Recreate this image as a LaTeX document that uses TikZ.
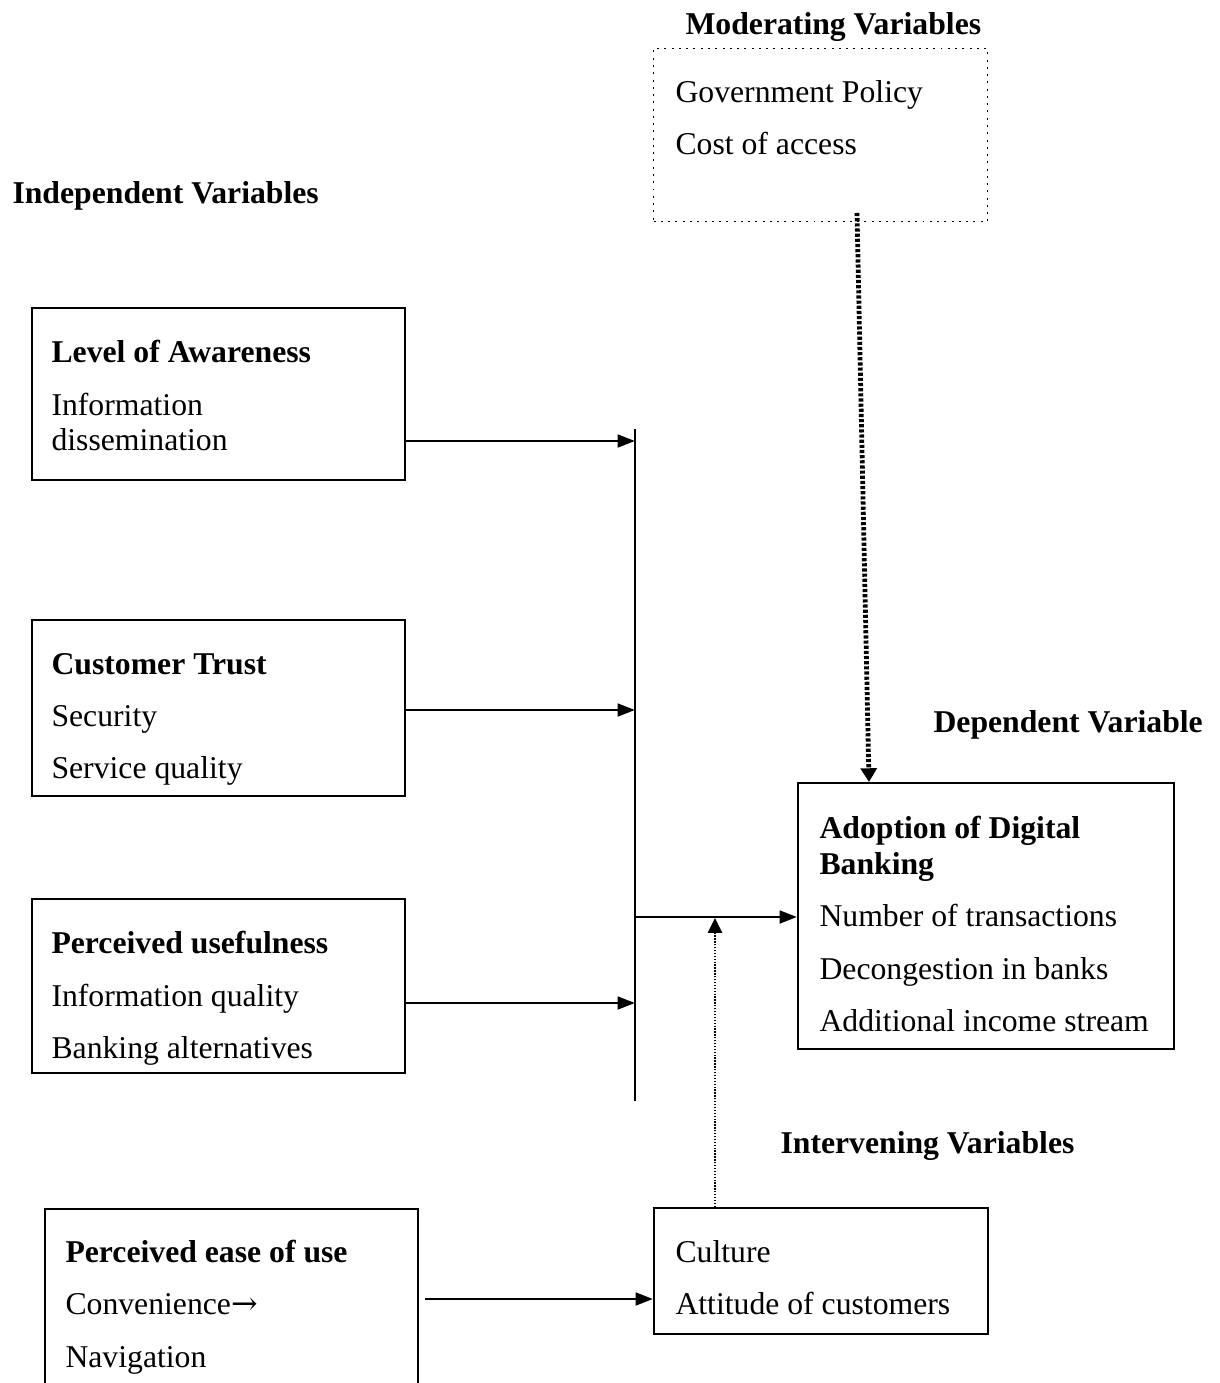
\documentclass[tikz,border=0pt]{standalone}
\usepackage{fontspec}
\setmainfont{Liberation Serif}
\newfontfamily\arrowfont{DejaVu Serif}
\usetikzlibrary{arrows.meta}
\newdimen\pxu
\pxu=0.3785pt

\begin{document}
\begin{tikzpicture}[x=0.3785pt,y=-0.3785pt,
  txt/.style={anchor=base west,inner sep=0pt,font=\fontsize{12pt}{14pt}\selectfont},
  head/.style={txt,font=\fontsize{12pt}{14pt}\selectfont\bfseries},
  box/.style={draw,line width=0.75pt,anchor=north west,inner sep=0pt},
  line/.style={line width=1.05pt},
  arr/.style={line,-{Triangle[length=6.6pt,width=4.8pt]}},
  bigdots/.style={line width=1.8pt,dash pattern=on 1.2pt off 0.75pt,-{Triangle[length=5.2pt,width=6pt]}},
  smalldots/.style={line width=0.5pt,dash pattern=on 0.5pt off 0.6pt,-{Triangle[length=5.6pt,width=5.4pt]}}]
\useasboundingbox (0,0) rectangle (1219,1383);
\node[box,dotted,line width=0.5pt,minimum width=334\pxu,minimum height=173\pxu] (modbox) at (653,48) {};
\node[box,minimum width=373\pxu,minimum height=172\pxu] (aware) at (31,307) {};
\node[box,minimum width=373\pxu,minimum height=176\pxu] (trust) at (31,619) {};
\node[box,minimum width=373\pxu,minimum height=174\pxu] (useful) at (31,898) {};
\node[box,minimum width=376\pxu,minimum height=266\pxu] (adopt) at (797,782) {};
\node[box,minimum width=334\pxu,minimum height=126\pxu] (culture) at (653,1207) {};
\node[box,minimum width=373\pxu,minimum height=180\pxu] (ease) at (44,1208) {};
% headings
\node[head] (hmod) at (685,35) {Moderating Variables};
\node[head] (hind) at (12,204) {Independent Variables};
\node[head] (hdep) at (933,732) {Dependent Variable};
\node[head] (hint) at (780,1153) {Intervening Variables};
% box texts
\node[txt] (gov) at (675,103) {Government Policy};
\node[txt] (cost) at (675,155) {Cost of access};
\node[head] (awaret) at (51,362) {Level of Awareness};
\node[txt] (info) at (51,415) {Information};
\node[txt] (diss) at (51,450) {dissemination};
\node[head] (trustt) at (51,674) {Customer Trust};
\node[txt] (sec) at (51,726) {Security};
\node[txt] (serv) at (51,778) {Service quality};
\node[head] (usefult) at (51,953) {Perceived usefulness};
\node[txt] (infoq) at (51,1006) {Information quality};
\node[txt] (balt) at (51,1058) {Banking alternatives};
\node[head] (adoptt) at (819,838) {Adoption of Digital};
\node[head] (adoptt2) at (819,874) {Banking};
\node[txt] (ntrans) at (819,926) {Number of transactions};
\node[txt] (decon) at (819,979) {Decongestion in banks};
\node[txt] (addinc) at (819,1031) {Additional income stream};
\node[head] (easet) at (65,1262) {Perceived ease of use};
\node[txt] (conv) at (65,1314) {Convenience{\arrowfont →}};
\node[txt] (nav) at (65,1367) {Navigation};
\node[txt] (cult) at (675,1262) {Culture};
\node[txt] (att) at (675,1314) {Attitude of customers};
% bus and connectors
\coordinate (bustop) at (635,429);
\coordinate (busbot) at (635,1101);
\coordinate (j1) at (635,441);
\coordinate (j2) at (635,710);
\coordinate (j3) at (635,1003);
\coordinate (jout) at (635,917);
\coordinate (modfoot) at (857,213);
\coordinate (modtip) at (869,782);
\coordinate (intip) at (715,918);
\draw[line] (bustop) -- (busbot);
\draw[arr] (aware.east |- j1) -- (j1);
\draw[arr] (trust.east |- j2) -- (j2);
\draw[arr] (useful.east |- j3) -- (j3);
\draw[arr] (jout) -- (adopt.west |- jout);
\draw[bigdots] (modfoot) -- (modtip);
\draw[smalldots] (culture.north -| intip) -- (intip);
\draw[arr] ([xshift=6\pxu]ease.east) -- (culture.west |- ease.east);
\end{tikzpicture}
\end{document}
